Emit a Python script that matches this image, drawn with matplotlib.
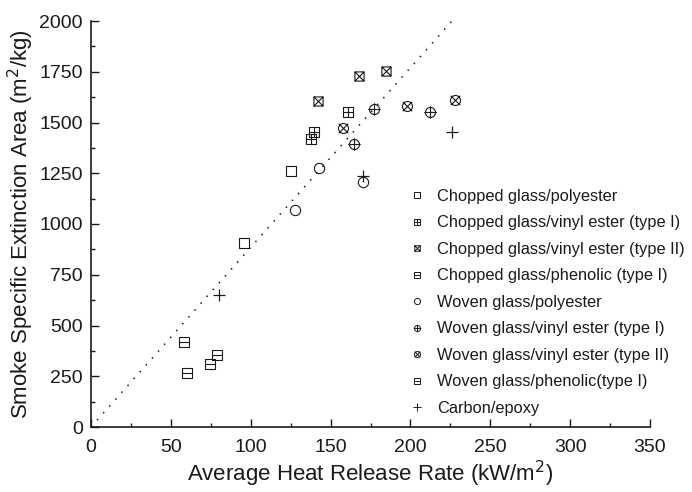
import numpy as np
import matplotlib
matplotlib.use("Agg")
import matplotlib.pyplot as plt
from matplotlib.path import Path
from matplotlib.ticker import MultipleLocator

# ---------------- data ----------------
labels = [
    "Chopped glass/polyester",
    "Chopped glass/vinyl ester (type I)",
    "Chopped glass/vinyl ester (type II)",
    "Chopped glass/phenolic (type I)",
    "Woven glass/polyester",
    "Woven glass/vinyl ester (type I)",
    "Woven glass/vinyl ester (type II)",
    "Woven glass/phenolic(type I)",
    "Carbon/epoxy",
]
cg_poly_x = [95.6, 125.4]
cg_poly_y = [905, 1262]
cg_ve1_x = [137.9, 139.6, 160.6]
cg_ve1_y = [1419, 1452, 1553]
cg_ve2_x = [141.9, 167.5, 184.4]
cg_ve2_y = [1605, 1728, 1755]
cg_phen_x = [58.0, 79.2]
cg_phen_y = [418, 357]
wg_poly_x = [127.5, 142.5, 170.6]
wg_poly_y = [1070, 1275, 1208]
wg_ve1_x = [164.6, 177.5, 212.5]
wg_ve1_y = [1392, 1568, 1553]
wg_ve2_x = [158.0, 198.0, 228.0]
wg_ve2_y = [1472, 1583, 1612]
wg_phen_x = [60.0, 74.6]
wg_phen_y = [265, 309]
carbon_x = [80.0, 170.0, 226.0]
carbon_y = [648, 1235, 1452]

fit_slope = 8.85  # dotted trend line, SEA = slope * HRR

x_ticks = [0, 50, 100, 150, 200, 250, 300, 350]
y_ticks = [0, 250, 500, 750, 1000, 1250, 1500, 1750, 2000]

# ---------------- custom markers ----------------
def compound(*paths):
    return Path.make_compound_path(*paths)

def seg(p0, p1):
    return Path([p0, p1], [Path.MOVETO, Path.LINETO])

sq = Path([(-1, -1), (1, -1), (1, 1), (-1, 1), (-1, -1)],
          [Path.MOVETO, Path.LINETO, Path.LINETO, Path.LINETO, Path.CLOSEPOLY])
circ = Path.unit_circle()

m_square = sq
m_sq_plus = compound(sq, seg((-1, 0), (1, 0)), seg((0, -1), (0, 1)))
m_sq_x = compound(sq, seg((-1, -1), (1, 1)), seg((-1, 1), (1, -1)))
m_sq_h = compound(sq, seg((-1, 0), (1, 0)))
m_circle = circ
m_c_plus = compound(circ, seg((-1.25, 0), (1.25, 0)), seg((0, -1.25), (0, 1.25)))
m_c_x = compound(circ, seg((-0.95, -0.95), (0.95, 0.95)), seg((-0.95, 0.95), (0.95, -0.95)))

# ---------------- figure ----------------
plt.rcParams['font.family'] = ['Liberation Sans', 'DejaVu Sans']
fig = plt.figure(figsize=(6.92, 4.92), dpi=100)
ax = fig.add_axes([91 / 692, 65 / 492, 559 / 692, 406 / 492])

col = '#1a1a1a'
series = [
    (cg_poly_x, cg_poly_y, m_square, 6.6),
    (cg_ve1_x, cg_ve1_y, m_sq_plus, 6.6),
    (cg_ve2_x, cg_ve2_y, m_sq_x, 6.6),
    (cg_phen_x, cg_phen_y, m_sq_h, 6.6),
    (wg_poly_x, wg_poly_y, m_circle, 7.4),
    (wg_ve1_x, wg_ve1_y, m_c_plus, 9.0),
    (wg_ve2_x, wg_ve2_y, m_c_x, 7.2),
    (wg_phen_x, wg_phen_y, m_sq_h, 6.6),
]
handles = []
for (xs, ys, mk, ms), lab in zip(series, labels[:-1]):
    h, = ax.plot(xs, ys, linestyle='none', marker=mk, markersize=ms,
                 markerfacecolor='none', markeredgecolor=col,
                 markeredgewidth=0.8, label=lab, clip_on=False)
    handles.append(h)
h, = ax.plot(carbon_x, carbon_y, linestyle='none', marker='+', markersize=9,
             markeredgecolor=col, markeredgewidth=0.9, label=labels[-1])
handles.append(h)

# dotted trend line
fx = np.array([0, 2000 / fit_slope])
ax.plot(fx, fit_slope * fx, linestyle=(0, (1, 5)), color=col, linewidth=1.1)

ax.set_xlim(0, 350)
ax.set_ylim(0, 2000)
ax.set_xticks(x_ticks)
ax.set_yticks(y_ticks)
ax.xaxis.set_minor_locator(MultipleLocator(25))
ax.yaxis.set_minor_locator(MultipleLocator(125))
ax.tick_params(which='major', direction='in', length=5.8, width=1.0,
               labelsize=14, colors=col)
ax.tick_params(which='minor', direction='in', length=3.2, width=1.0, colors=col)
ax.tick_params(axis='x', which='major', pad=8.5)
ax.tick_params(axis='y', which='major', pad=6)
for s in ['top', 'right']:
    ax.spines[s].set_visible(False)
for s in ['left', 'bottom']:
    ax.spines[s].set_linewidth(1.2)
    ax.spines[s].set_color(col)

ax.set_xlabel('Average Heat Release Rate (kW/m$^2$)', fontsize=16, color=col, labelpad=2)
ax.set_ylabel('Smoke Specific Extinction Area (m$^2$/kg)', fontsize=16, color=col, labelpad=2)

leg = fig.legend(handles=handles, loc='upper left',
                 bbox_to_anchor=(407 / 692, 1 - 189 / 492),
                 frameon=False, fontsize=11.8, markerscale=0.6,
                 handlelength=1.2, handletextpad=0.65, labelspacing=0.7,
                 borderpad=0, borderaxespad=0)
for t in leg.get_texts():
    t.set_color(col)
for lh in leg.legend_handles:
    lh.set_markeredgewidth(0.7)

fig.savefig('out.png', dpi=100)
